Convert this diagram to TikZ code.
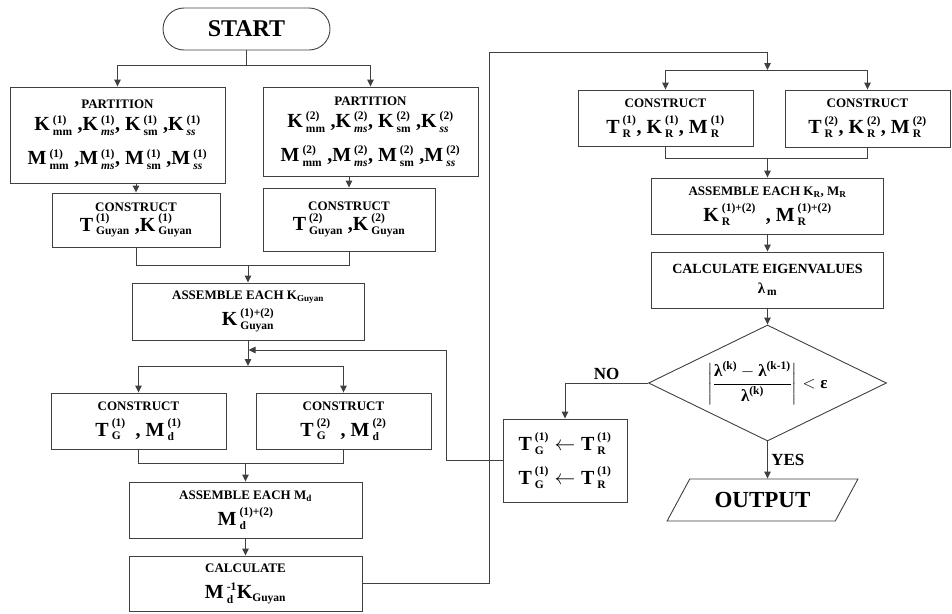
\documentclass[tikz,border=0pt]{standalone}
\usepackage{amsmath}
\usepackage{fontspec}
\setmainfont{Liberation Serif}
\usetikzlibrary{arrows.meta,positioning,shapes.geometric}

\newcommand\boxhead[1]{{\fontsize{13}{15}\selectfont #1}}
\newcommand\sx[1]{\mbox{\fontsize{11.5}{12}\selectfont\bfseries #1}}
\newcommand\mx[3]{\mathbf{#1\kern3pt}^{\sx{#2}}_{\sx{#3}}}
\newcommand\lmb{\text{\bfseries λ}}

\begin{document}
\begin{tikzpicture}[
    x=1pt, y=-1pt,
    procbox/.style={draw=black!75, line width=0.9pt, align=center, inner sep=0pt, font=\fontsize{20}{26}\selectfont\bfseries},
    startbox/.style={draw=black!75, line width=0.9pt, rounded corners=21pt, inner sep=0pt, font=\fontsize{24}{28}\selectfont\bfseries},
    choice/.style={diamond, aspect=2.05, draw=black!75, line width=0.9pt, inner sep=0pt, font=\fontsize{17}{20}\selectfont\bfseries},
    outbox/.style={trapezium, trapezium left angle=46, trapezium right angle=134, trapezium stretches=true, draw=black!75, line width=0.9pt, inner sep=0pt, font=\fontsize{23}{28}\selectfont\bfseries},
    wire/.style={draw=black!75, line width=0.9pt},
    link/.style={wire, -{Triangle[length=7pt, width=6.5pt]}},
    tag/.style={font=\fontsize{17}{20}\selectfont\bfseries}
]
\useasboundingbox (0,0) rectangle (952,613);

% left column
\node[startbox, minimum width=167pt, minimum height=42pt] (start) at (246.5,29) {START};
\node[procbox, minimum width=215pt, minimum height=96pt] (part1) at (117.5,135) {\boxhead{PARTITION}\\[-4pt]
  $\mx{K}{(1)}{mm}$ ,$\mx{K}{(1)}{\itshape ms}$, $\mx{K}{(1)}{sm}$ ,$\mx{K}{(1)}{\itshape ss}$\\[8pt]
  $\mx{M}{(1)}{mm}$ ,$\mx{M}{(1)}{\itshape ms}$, $\mx{M}{(1)}{sm}$ ,$\mx{M}{(1)}{\itshape ss}$};
\node[procbox, minimum width=215pt, minimum height=89pt] (part2) at (370.5,131.5) {\boxhead{PARTITION}\\[-4pt]
  $\mx{K}{(2)}{mm}$ ,$\mx{K}{(2)}{\itshape ms}$, $\mx{K}{(2)}{sm}$ ,$\mx{K}{(2)}{\itshape ss}$\\[8pt]
  $\mx{M}{(2)}{mm}$ ,$\mx{M}{(2)}{\itshape ms}$, $\mx{M}{(2)}{sm}$ ,$\mx{M}{(2)}{\itshape ss}$};
\node[procbox, minimum width=168pt, minimum height=54pt] (cons1) at (136,220) {\boxhead{CONSTRUCT}\\[-6pt]
  $\mx{T}{(1)}{Guyan}$ ,$\mx{K}{(1)}{Guyan}$};
\node[procbox, minimum width=172pt, minimum height=63pt] (cons2) at (349,219.5) {\boxhead{CONSTRUCT}\\[-6pt]
  $\mx{T}{(2)}{Guyan}$ ,$\mx{K}{(2)}{Guyan}$};
\node[procbox, minimum width=232pt, minimum height=57pt] (asmK) at (248,311.5) {\boxhead{ASSEMBLE EACH K\textsubscript{Guyan}}\\
  $\mx{K}{(1)+(2)}{Guyan}$};
\node[procbox, minimum width=175pt, minimum height=56pt] (tg1) at (138.5,421) {\boxhead{CONSTRUCT}\\
  $\mx{T}{(1)}{G}$\ \ ,\ $\mx{M}{(1)}{d}$};
\node[procbox, minimum width=175pt, minimum height=56pt] (tg2) at (343.5,421) {\boxhead{CONSTRUCT}\\
  $\mx{T}{(2)}{G}$\ \ ,\ $\mx{M}{(2)}{d}$};
\node[procbox, minimum width=233pt, minimum height=56pt] (asmM) at (245.5,510) {\boxhead{ASSEMBLE EACH M\textsubscript{d}}\\
  $\mx{M}{(1)+(2)}{d}$};
\node[procbox, minimum width=233pt, minimum height=55pt] (calc) at (245.5,583.5) {\boxhead{CALCULATE}\\
  $\mx{M}{-1}{d}\mathbf{K}_{\sx{Guyan}}$};

% right column
\node[procbox, minimum width=175pt, minimum height=56pt] (tr1) at (665.5,118) {\boxhead{CONSTRUCT}\\
  $\mx{T}{(1)}{R}$, $\mx{K}{(1)}{R}$, $\mx{M}{(1)}{R}$};
\node[procbox, minimum width=165pt, minimum height=57pt] (tr2) at (867.5,118.5) {\boxhead{CONSTRUCT}\\
  $\mx{T}{(2)}{R}$, $\mx{K}{(2)}{R}$, $\mx{M}{(2)}{R}$};
\node[procbox, minimum width=232pt, minimum height=56pt] (asmR) at (767.5,206) {\boxhead{ASSEMBLE EACH K\textsubscript{R}, M\textsubscript{R}}\\
  $\mx{K}{(1)+(2)}{R}$\ \ ,\ $\mx{M}{(1)+(2)}{R}$};
\node[procbox, minimum width=232pt, minimum height=56pt] (eig) at (767.5,280) {\boxhead{\fontsize{14}{16}\selectfont CALCULATE EIGENVALUES}\\[-6pt]
  {\fontsize{15}{18}\selectfont $\lmb_{\,\sx{m}}$}};
\node[choice, minimum width=238pt, minimum height=116pt] (dec) at (767.5,383)
  {$\displaystyle\left|\frac{\lmb^{\sx{(k)}}-\lmb^{\sx{(k-1)}}}{\lmb^{\sx{(k)}}}\right| < \text{\bfseries ε}$};
\node[procbox, minimum width=124pt, minimum height=83pt] (upd) at (565,460.5)
  {$\mx{T}{(1)}{G} \leftarrow \mx{T}{(1)}{R}$\\[8pt]$\mx{T}{(1)}{G} \leftarrow \mx{T}{(1)}{R}$};
\node[outbox, minimum width=191pt, minimum height=42pt] (out) at (762.5,500) {OUTPUT};

% branch points
\coordinate (fork1) at (246.5,65);
\coordinate (merge1) at (248,265);
\coordinate (fork2) at (248,366);
\coordinate (loopin) at (248.5,350);
\coordinate (merge2) at (245.5,463);
\coordinate (fork3) at (767.5,70);
\coordinate (merge3) at (767.5,158);

% connectors
\draw[wire] (start) -- (fork1);
\draw[link] (fork1) -| (part1);
\draw[link] (fork1) -| (part2);
\draw[link] (part1.south -| cons1) -- (cons1);
\draw[link] (part2.south -| cons2) -- (cons2);
\draw[wire] (cons1) |- (merge1);
\draw[wire] (cons2) |- (merge1);
\draw[link] (merge1) -- (asmK);
\draw[link] (asmK) -- (fork2);
\draw[link] (fork2) -| (tg1);
\draw[link] (fork2) -| (tg2);
\draw[wire] (tg1) |- (merge2);
\draw[wire] (tg2) |- (merge2);
\draw[link] (merge2) -- (asmM);
\draw[link] (asmM) -- (calc);
\draw[link] (calc.east) -- ++(126.5,0) |- ([yshift=18pt]fork3) -- (fork3);
\draw[link] (fork3) -| (tr1);
\draw[link] (fork3) -| (tr2);
\draw[wire] (tr1) |- (merge3);
\draw[wire] (tr2) |- (merge3);
\draw[link] (merge3) -- (asmR);
\draw[link] (asmR) -- (eig);
\draw[link] (eig) -- (dec);
\draw[link] (dec.west) -| node[tag, pos=0.25, above] {NO} (upd);
\draw[link] (dec.south) -- node[tag, right] {YES} (dec.south |- out.north);
\draw[link] (upd.west) -- ++(-56,0) |- (loopin);
\end{tikzpicture}
\end{document}
